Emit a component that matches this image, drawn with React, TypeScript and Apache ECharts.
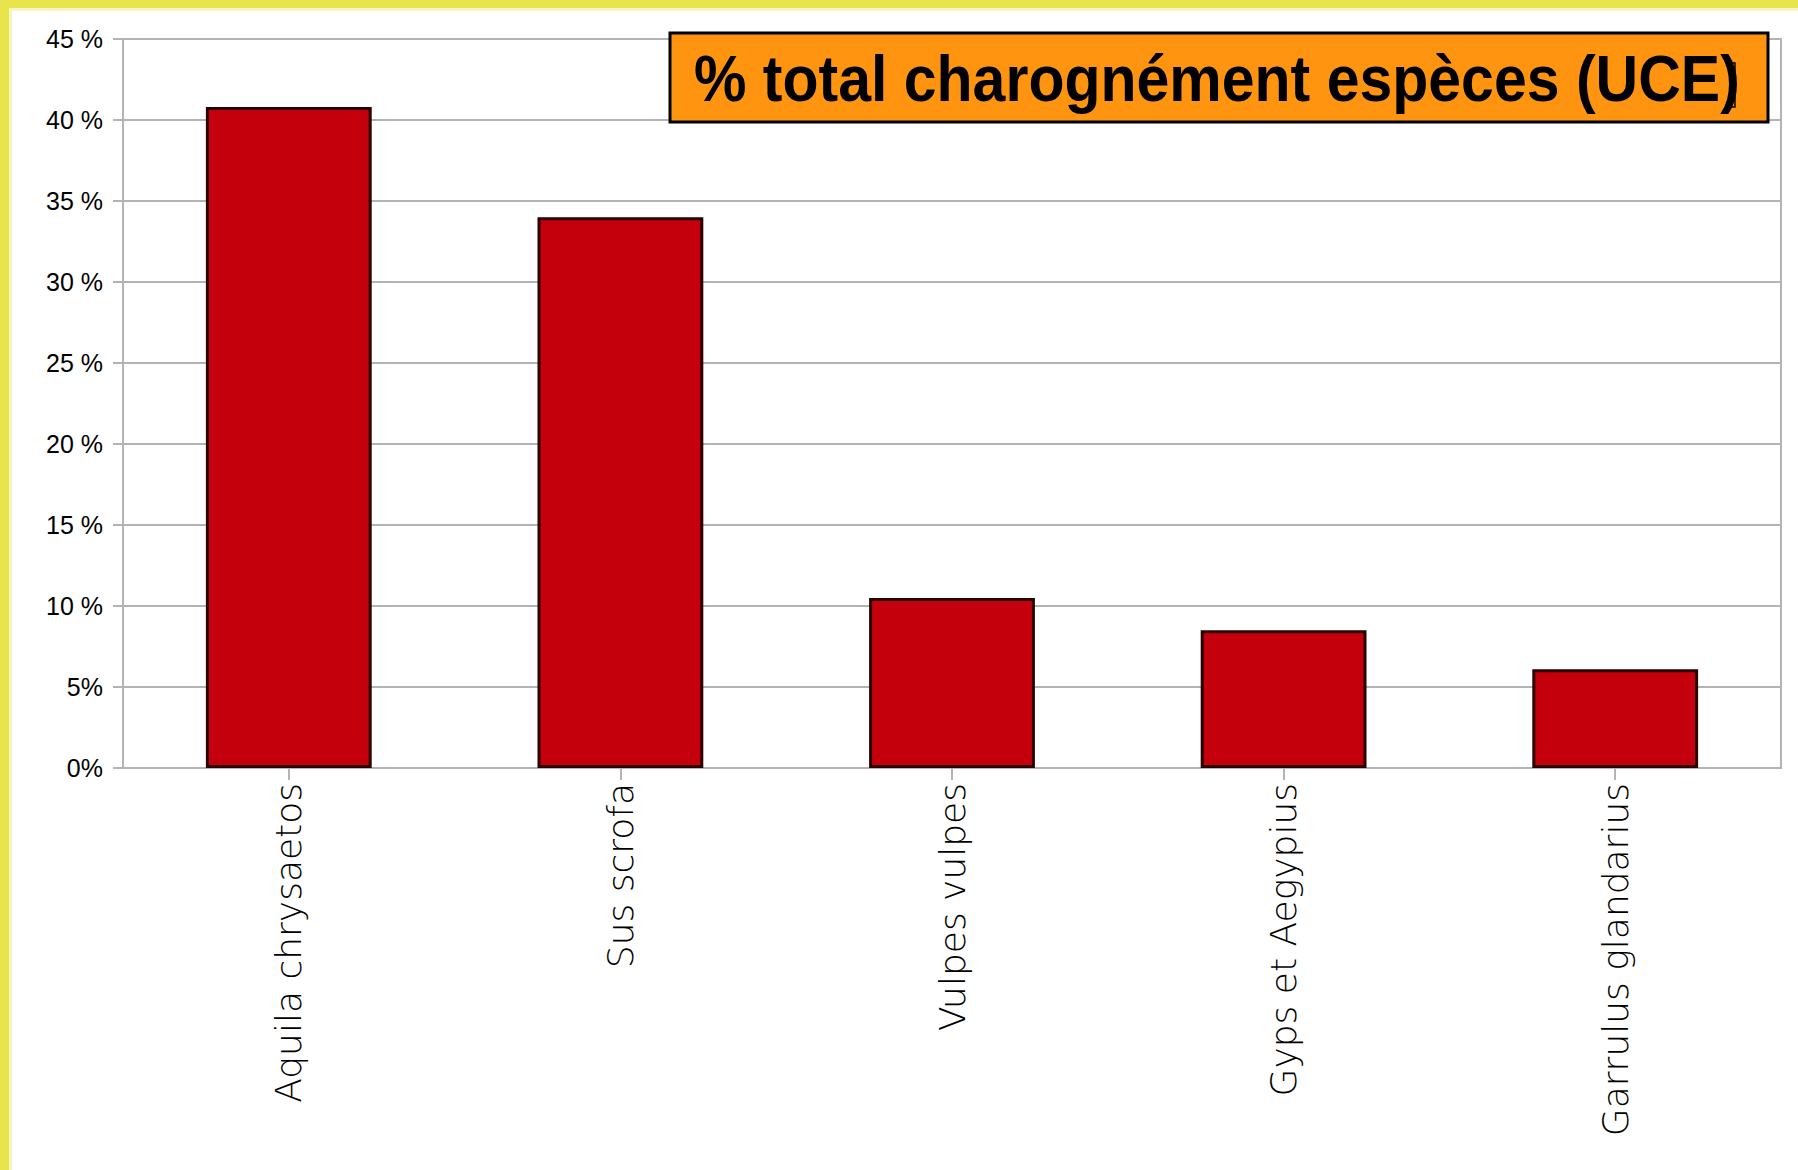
import React, { useEffect, useRef } from "react";
import * as echarts from "echarts";

const categories = [
  "Aquila chrysaetos",
  "Sus scrofa",
  "Vulpes vulpes",
  "Gyps et Aegypius",
  "Garrulus glandarius",
];
const values = [40.8, 34.0, 10.5, 8.5, 6.1];
const yTickLabels: Record<number, string> = {
  0: "0%",
  5: "5%",
  10: "10 %",
  15: "15 %",
  20: "20 %",
  25: "25 %",
  30: "30 %",
  35: "35 %",
  40: "40 %",
  45: "45 %",
};
const titleText = "% total charognément espèces (UCE)";

export default function App() {
  const ref = useRef<HTMLDivElement>(null);
  useEffect(() => {
    if (!ref.current) return;
    const chart = echarts.init(ref.current, undefined, { renderer: "svg" });
    const gray = "#b3b3b3";
    chart.setOption({
      animation: false,
      backgroundColor: "#ffffff",
      grid: {
        left: 123,
        right: 17,
        top: 39,
        bottom: 402,
        show: true,
        borderColor: gray,
        borderWidth: 2,
        backgroundColor: "transparent",
      },
      xAxis: {
        type: "category",
        data: categories,
        axisLine: { show: true, lineStyle: { color: gray, width: 2 } },
        axisTick: {
          show: true,
          alignWithLabel: true,
          length: 12,
          lineStyle: { color: gray, width: 2 },
        },
        axisLabel: {
          rotate: 90,
          margin: 15,
          color: "#000000",
          fontFamily: "DejaVu Sans",
          fontWeight: 200,
          fontSize: 36,
          interval: 0,
        },
      },
      yAxis: {
        type: "value",
        min: 0,
        max: 45,
        interval: 5,
        axisLine: { show: true, lineStyle: { color: gray, width: 2 } },
        axisTick: { show: true, length: 10, lineStyle: { color: gray, width: 2 } },
        splitLine: { show: true, lineStyle: { color: gray, width: 2 } },
        axisLabel: {
          margin: 20,
          color: "#000000",
          fontFamily: "Liberation Sans",
          fontSize: 25,
          formatter: (v: number) => yTickLabels[v] ?? `${v} %`,
        },
      },
      series: [
        {
          type: "bar",
          data: values,
          barWidth: "50%",
          itemStyle: {
            color: "#c4000c",
            borderColor: "#2a0000",
            borderWidth: 3,
          },
        },
      ],
      graphic: [
        { type: "rect", left: 0, top: 0, z: 100, shape: { width: 1798, height: 8 }, style: { fill: "#e8e44c" } },
        { type: "rect", left: 0, top: 8, z: 100, shape: { width: 1798, height: 3 }, style: { fill: "#f6f4c0" } },
        { type: "rect", left: 0, top: 0, z: 101, shape: { width: 9, height: 1170 }, style: { fill: "#e8e44c" } },
        { type: "rect", left: 9, top: 11, z: 100, shape: { width: 3, height: 1159 }, style: { fill: "#f6f4c0" } },
        {
          type: "rect",
          x: 670,
          y: 33,
          z: 100,
          shape: { x: 0, y: 0, width: 1098, height: 89 },
          style: { fill: "#ff9410", stroke: "#000000", lineWidth: 3 },
        },
        {
          type: "text",
          x: 694,
          y: 79,
          z: 101,
          scaleY: 1.1,
          style: {
            text: titleText,
            fill: "#000000",
            font: "bold 59px 'Liberation Sans'",
            textAlign: "left",
            textVerticalAlign: "middle",
          },
        },
        {
          type: "rect",
          x: 1731,
          y: 63,
          z: 102,
          shape: { x: 0, y: 0, width: 4, height: 44 },
          style: { fill: "none", stroke: "#000000", lineWidth: 1.5 },
        },
      ],
    });
    return () => chart.dispose();
  }, []);
  return (
    <div
      ref={ref}
      style={{ position: "absolute", left: 0, top: 0, width: 1798, height: 1170 }}
    />
  );
}
